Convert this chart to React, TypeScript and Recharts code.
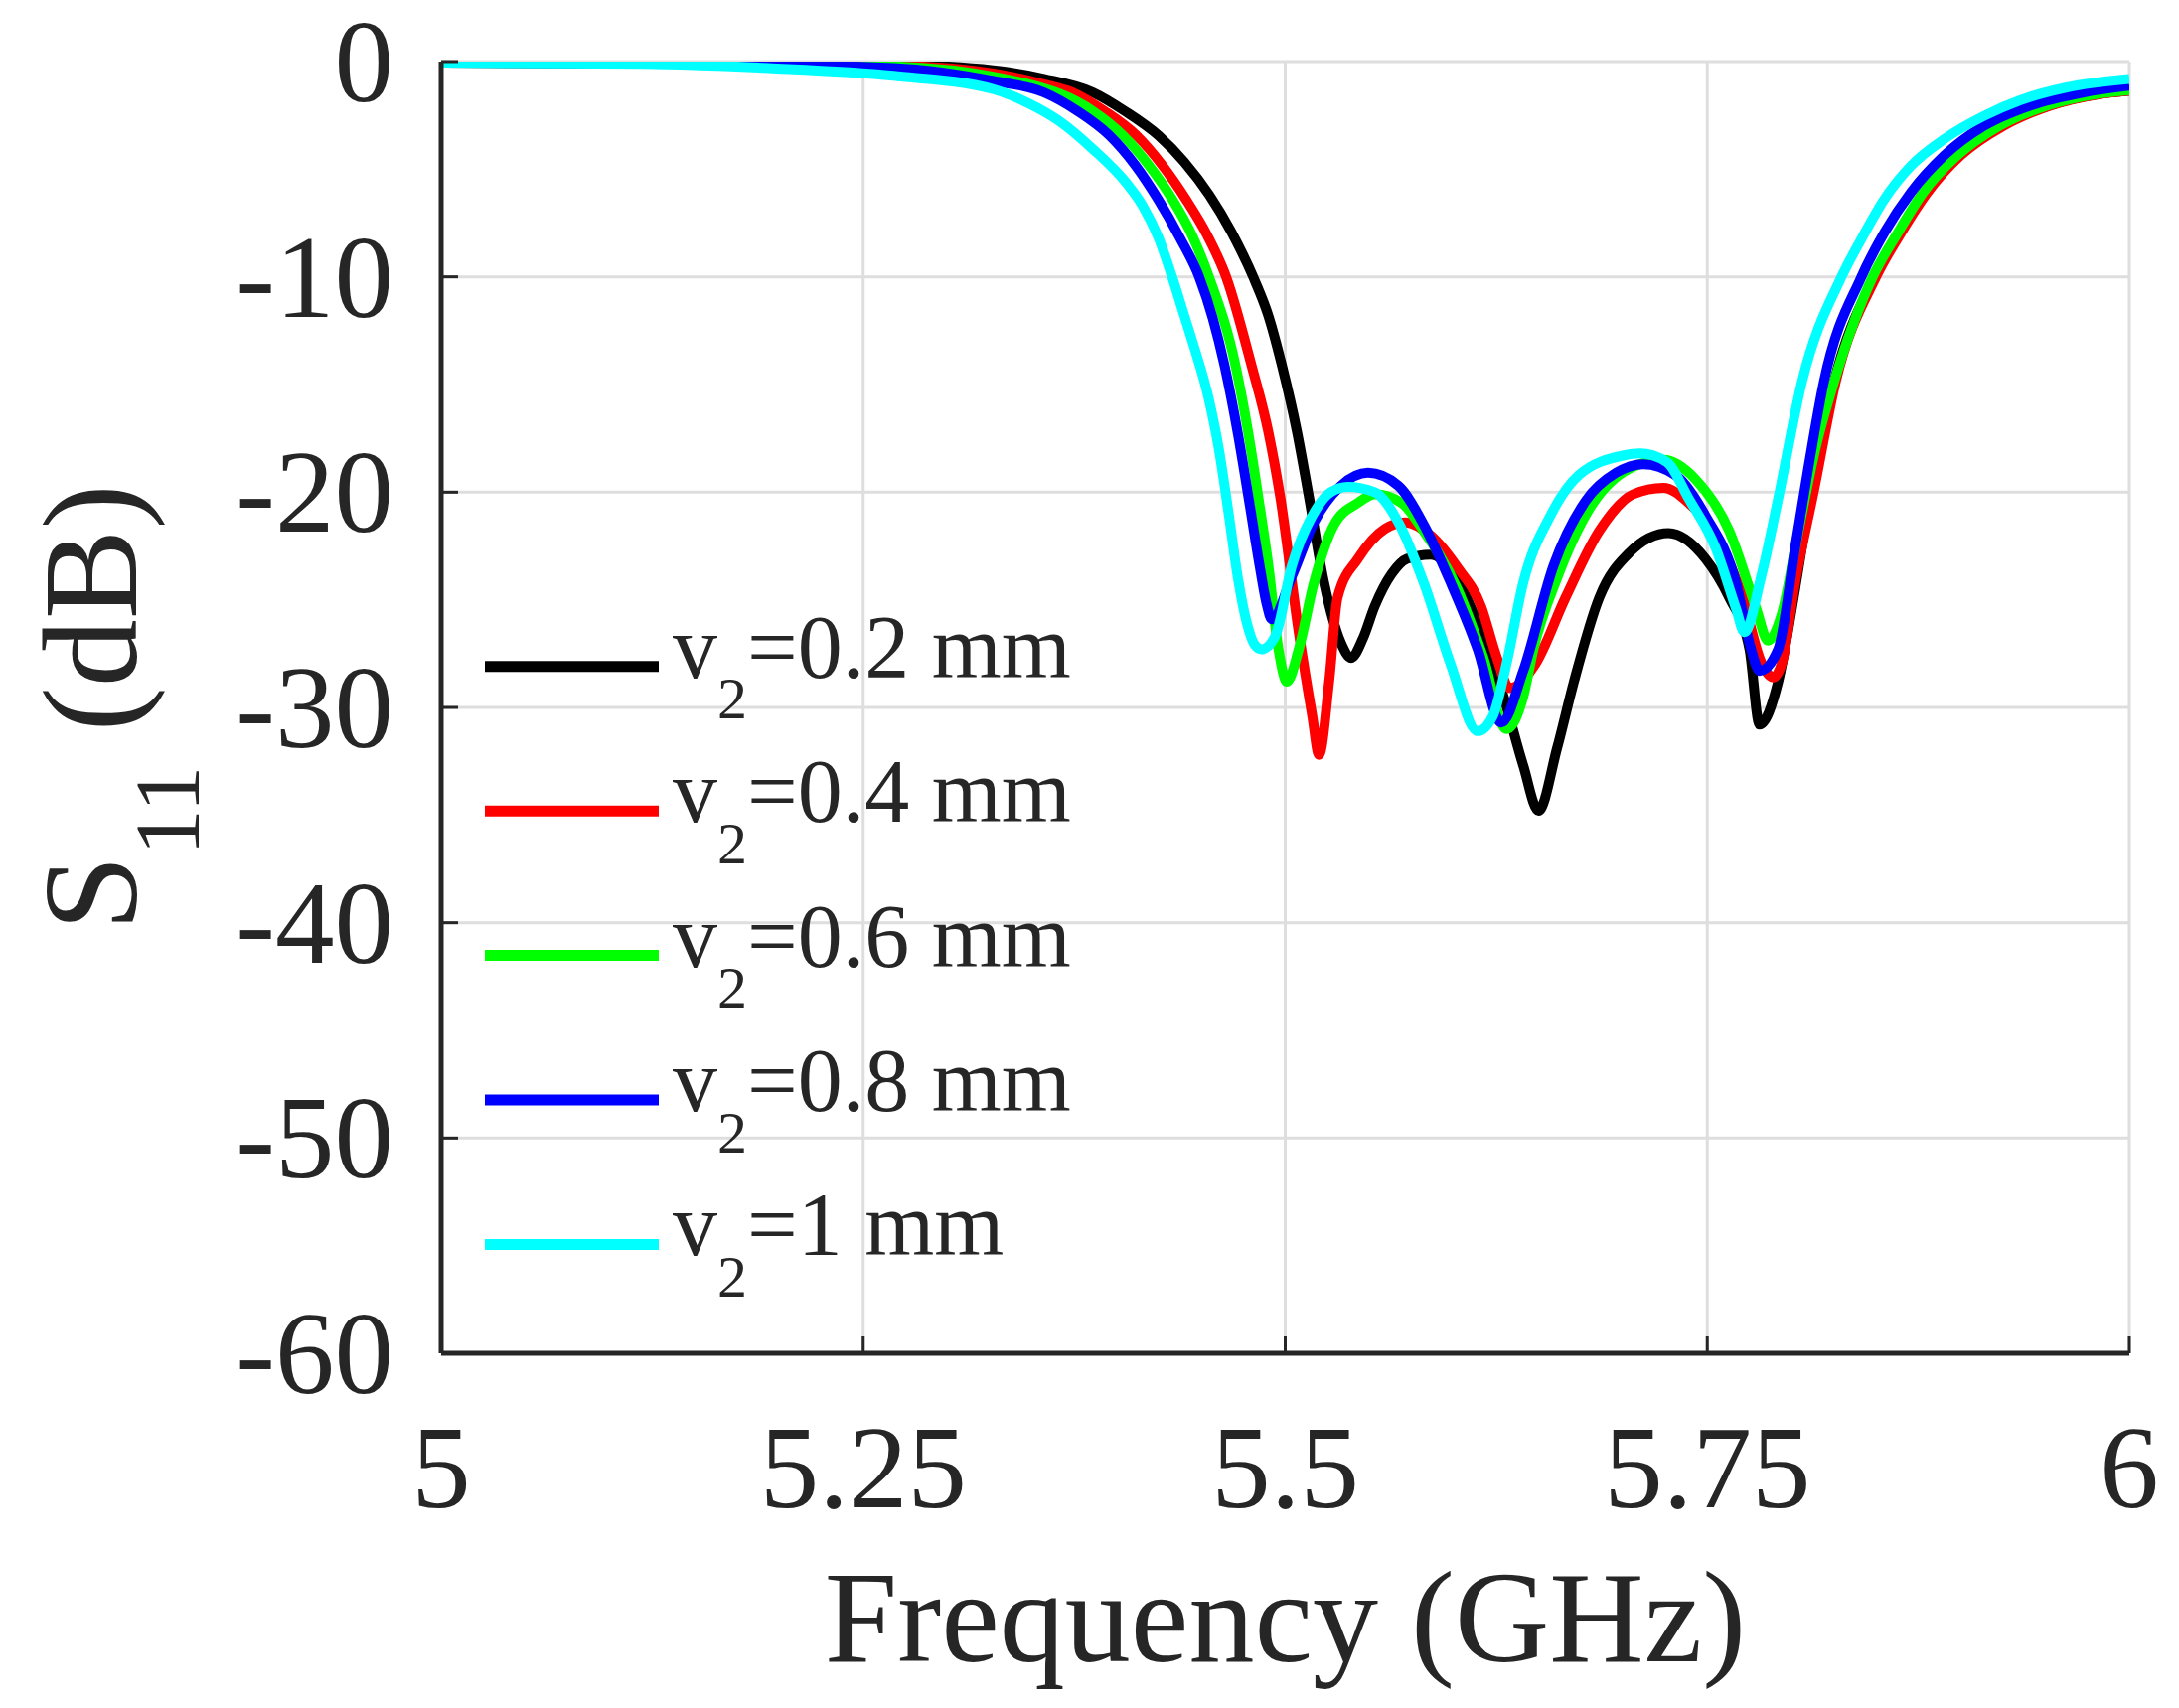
import React from "react";
import {
  LineChart,
  Line,
  XAxis,
  YAxis,
  CartesianGrid,
  Legend,
} from "recharts";

const FONT = '"Liberation Serif", "Times New Roman", serif';
const INK = "#262626";
const GRID = "#dedede";

// page & plot box (px)
const W = 2193;
const H = 1719;
const PLOT_L = 444;
const PLOT_R = 2143;
const PLOT_T = 62;
const PLOT_B = 1362;
const TICK = 17;

// axes
const X_TICKS = [5, 5.25, 5.5, 5.75, 6];
const Y_TICKS = [-60, -50, -40, -30, -20, -10, 0];

// v2 = 0.2 mm
const F_02 = [5.0, 5.15, 5.268, 5.327, 5.357, 5.386, 5.405, 5.425, 5.44, 5.455, 5.468, 5.481, 5.49, 5.498, 5.507, 5.514, 5.523, 5.533, 5.539, 5.546, 5.553, 5.563, 5.572, 5.586, 5.6, 5.615, 5.629, 5.641, 5.65, 5.661, 5.671, 5.686, 5.704, 5.727, 5.749, 5.763, 5.775, 5.781, 5.792, 5.802, 5.811, 5.825, 5.849, 5.864, 5.8795, 5.899, 5.9245, 5.952, 5.9815, 6.0];
const S_02 = [-0.05, -0.06, -0.14, -0.4, -0.8, -1.43, -2.3, -3.44, -4.65, -6.2, -7.9, -10.0, -11.8, -14.1, -17.2, -20.2, -24.2, -27.0, -27.7, -26.8, -25.3, -23.8, -23.1, -22.9, -23.8, -26.3, -29.4, -32.7, -34.8, -31.9, -28.8, -24.9, -22.8, -21.9, -23.1, -24.9, -27.3, -30.8, -28.8, -24.5, -20.2, -14.9, -10.0, -7.93, -6.07, -4.37, -2.98, -2.05, -1.51, -1.35];

// v2 = 0.4 mm
const F_04 = [5.0, 5.15, 5.268, 5.327, 5.357, 5.374, 5.393, 5.412, 5.427, 5.441, 5.454, 5.465, 5.48, 5.49, 5.497, 5.508, 5.516, 5.52, 5.526, 5.531, 5.543, 5.559, 5.571, 5.586, 5.602, 5.616, 5.625, 5.633, 5.648, 5.666, 5.686, 5.706, 5.724, 5.739, 5.755, 5.771, 5.782, 5.789, 5.794, 5.802, 5.813, 5.826, 5.85, 5.865, 5.8805, 5.9, 5.9255, 5.953, 5.9825, 6.0];
const S_04 = [-0.05, -0.07, -0.18, -0.55, -1.05, -1.43, -2.3, -3.44, -4.8, -6.38, -8.1, -10.0, -14.1, -17.2, -20.2, -26.5, -30.4, -32.2, -28.8, -24.9, -23.1, -21.7, -21.4, -22.0, -23.5, -25.3, -27.6, -29.1, -28.0, -24.9, -21.8, -20.1, -19.8, -20.5, -22.0, -24.9, -27.9, -28.6, -28.0, -24.2, -20.0, -14.9, -10.0, -7.93, -6.07, -4.37, -2.98, -2.05, -1.51, -1.35];

// v2 = 0.6 mm
const F_06 = [5.0, 5.15, 5.268, 5.327, 5.357, 5.3665, 5.386, 5.404, 5.419, 5.433, 5.445, 5.4548, 5.4705, 5.478, 5.484, 5.49, 5.496, 5.501, 5.508, 5.517, 5.529, 5.543, 5.553, 5.569, 5.582, 5.602, 5.617, 5.631, 5.641, 5.647, 5.661, 5.68, 5.704, 5.724, 5.743, 5.763, 5.779, 5.786, 5.794, 5.804, 5.814, 5.825, 5.848, 5.863, 5.878, 5.898, 5.923, 5.951, 5.98, 6.0];
const S_06 = [-0.05, -0.08, -0.22, -0.7, -1.25, -1.5, -2.3, -3.44, -4.8, -6.38, -8.1, -10.0, -14.1, -17.2, -20.2, -23.4, -27.3, -28.8, -27.3, -24.2, -21.5, -20.5, -20.1, -20.5, -21.8, -24.5, -27.6, -31.0, -29.5, -27.3, -24.0, -20.8, -18.9, -18.5, -19.4, -21.8, -25.4, -26.9, -25.7, -21.8, -18.0, -14.9, -10.0, -7.93, -6.07, -4.37, -2.98, -2.05, -1.51, -1.33];

// v2 = 0.8 mm
const F_08 = [5.0, 5.15, 5.268, 5.327, 5.357, 5.377, 5.396, 5.411, 5.4245, 5.437, 5.449, 5.457, 5.464, 5.472, 5.479, 5.485, 5.489, 5.492, 5.504, 5.517, 5.533, 5.549, 5.567, 5.582, 5.598, 5.614, 5.628, 5.641, 5.659, 5.678, 5.696, 5.712, 5.731, 5.749, 5.767, 5.776, 5.781, 5.792, 5.802, 5.81, 5.819, 5.8413, 5.855, 5.8707, 5.8903, 5.914, 5.941, 5.973, 6.0];
const S_08 = [-0.05, -0.09, -0.3, -0.9, -1.43, -2.3, -3.44, -4.8, -6.38, -8.1, -10.0, -11.9, -14.1, -17.3, -20.6, -23.5, -25.2, -25.9, -23.9, -21.4, -19.7, -19.1, -19.7, -21.5, -24.2, -27.3, -30.7, -28.3, -23.4, -20.4, -19.1, -18.7, -19.2, -21.1, -24.2, -27.3, -28.3, -27.3, -22.6, -18.8, -14.9, -10.0, -7.93, -6.07, -4.37, -2.98, -2.05, -1.43, -1.12];

// v2 = 1 mm
const F_10 = [5.0, 5.12, 5.194, 5.268, 5.327, 5.347, 5.366, 5.386, 5.406, 5.4155, 5.425, 5.433, 5.439, 5.445, 5.4548, 5.4607, 5.4665, 5.472, 5.477, 5.482, 5.486, 5.494, 5.504, 5.516, 5.527, 5.537, 5.553, 5.567, 5.582, 5.598, 5.614, 5.623, 5.631, 5.641, 5.657, 5.674, 5.7, 5.71, 5.726, 5.739, 5.755, 5.767, 5.772, 5.782, 5.792, 5.806, 5.8295, 5.8413, 5.855, 5.8707, 5.8903, 5.914, 5.9374, 5.963, 6.0];
const S_10 = [-0.05, -0.1, -0.3, -0.66, -1.28, -1.9, -2.75, -4.06, -5.65, -6.69, -8.2, -10.0, -11.5, -13.0, -15.7, -18.0, -21.0, -24.0, -26.0, -27.1, -27.3, -26.7, -23.4, -21.1, -20.0, -19.75, -20.0, -21.4, -24.2, -28.0, -31.1, -30.4, -28.0, -24.2, -21.1, -19.2, -18.3, -18.2, -18.6, -20.3, -22.6, -25.4, -26.5, -23.9, -20.3, -14.9, -10.0, -8.24, -6.38, -4.84, -3.6, -2.52, -1.74, -1.2, -0.81];

const toPoints = (f: number[], s: number[]) => f.map((x, i) => ({ f: x, s: s[i] }));

const SERIES = [
  { name: "0.2", color: "#000000", data: toPoints(F_02, S_02) },
  { name: "0.4", color: "#ff0000", data: toPoints(F_04, S_04) },
  { name: "0.6", color: "#00ff00", data: toPoints(F_06, S_06) },
  { name: "0.8", color: "#0000ff", data: toPoints(F_08, S_08) },
  { name: "1", color: "#00ffff", data: toPoints(F_10, S_10) },
];

function BottomTick(props: any) {
  const { x, y, payload } = props;
  return (
    <g>
      <line x1={x} x2={x} y1={y} y2={y - TICK} stroke={INK} strokeWidth={3} />
      <text x={x} y={y + 155} textAnchor="middle" fontFamily={FONT} fontSize={119} fill={INK}>
        {String(payload.value)}
      </text>
    </g>
  );
}

function LeftTick(props: any) {
  const { x, y, payload } = props;
  return (
    <g>
      <line x1={x} x2={x + TICK} y1={y} y2={y} stroke={INK} strokeWidth={3} />
      <text x={x - 48} y={y + 40} textAnchor="end" fontFamily={FONT} fontSize={119} fill={INK}>
        {String(payload.value)}
      </text>
    </g>
  );
}

function TopTick(props: any) {
  const { x, y } = props;
  return <line x1={x} x2={x} y1={y} y2={y + TICK} stroke={INK} strokeWidth={3} />;
}

function RightTick(props: any) {
  const { x, y } = props;
  return <line x1={x} x2={x - TICK} y1={y} y2={y} stroke={INK} strokeWidth={3} />;
}

function XTitle() {
  return (
    <text x={(PLOT_L + PLOT_R) / 2} y={1672} textAnchor="middle" fontFamily={FONT} fontSize={132} fill={INK}>
      Frequency (GHz)
    </text>
  );
}

function YTitle() {
  const cx = 137;
  const cy = (PLOT_T + PLOT_B) / 2;
  return (
    <text
      x={cx}
      y={cy}
      transform={`rotate(-90, ${cx}, ${cy})`}
      textAnchor="middle"
      fontFamily={FONT}
      fontSize={136}
      fill={INK}
    >
      <tspan>S</tspan>
      <tspan dy={63} fontSize={94}>11</tspan>
      <tspan dy={-63}> (dB)</tspan>
    </text>
  );
}

function LegendBox(props: any) {
  const items = props.payload || [];
  return (
    <svg width={720} height={720} style={{ display: "block" }}>
      {items.map((it: any, i: number) => {
        const y = 70.8 + i * 145.4;
        return (
          <g key={i}>
            <line x1={8} x2={183} y1={y} y2={y} stroke={it.color} strokeWidth={11} />
            <text x={197} y={y + 11} fontFamily={FONT} fontSize={90} fill={INK}>
              <tspan>v</tspan>
              <tspan dy={41.6} fontSize={60}>2</tspan>
              <tspan dy={-41.6}>{`=${it.value} mm`}</tspan>
            </text>
          </g>
        );
      })}
    </svg>
  );
}

export default function App() {
  return (
    <div style={{ position: "absolute", left: 0, top: 0, width: W, height: H, background: "#fff" }}>
      <LineChart
        width={W}
        height={H}
        margin={{ top: PLOT_T, right: W - PLOT_R, bottom: 0, left: 0 }}
      >
        <CartesianGrid stroke={GRID} strokeWidth={3} />
        <XAxis
          dataKey="f"
          type="number"
          domain={[5, 6]}
          ticks={X_TICKS}
          allowDataOverflow
          height={H - PLOT_B}
          tickSize={0}
          tickMargin={0}
          tickLine={false}
          axisLine={{ stroke: INK, strokeWidth: 5 }}
          tick={(p: any) => <BottomTick {...p} />}
          interval={0}
          label={<XTitle />}
        />
        <XAxis
          xAxisId="top"
          orientation="top"
          type="number"
          domain={[5, 6]}
          ticks={X_TICKS}
          height={0}
          tickSize={0}
          tickMargin={0}
          tickLine={false}
          axisLine={{ stroke: INK, strokeWidth: 5 }}
          tick={(p: any) => <TopTick {...p} />}
          interval={0}
        />
        <YAxis
          type="number"
          domain={[-60, 0]}
          ticks={Y_TICKS}
          allowDataOverflow
          width={PLOT_L}
          tickSize={0}
          tickMargin={0}
          tickLine={false}
          axisLine={{ stroke: INK, strokeWidth: 5 }}
          tick={(p: any) => <LeftTick {...p} />}
          interval={0}
          label={<YTitle />}
        />
        <YAxis
          yAxisId="right"
          orientation="right"
          type="number"
          domain={[-60, 0]}
          ticks={Y_TICKS}
          width={0}
          tickSize={0}
          tickMargin={0}
          tickLine={false}
          axisLine={{ stroke: INK, strokeWidth: 5 }}
          tick={(p: any) => <RightTick {...p} />}
          interval={0}
        />
        <Legend
          layout="vertical"
          align="center"
          verticalAlign="middle"
          content={(p: any) => <LegendBox {...p} />}
          wrapperStyle={{ position: "absolute", left: 480, top: 600, width: 720, height: 720 }}
        />
        {SERIES.map((s) => (
          <Line
            key={s.name}
            data={s.data}
            dataKey="s"
            name={s.name}
            type="monotone"
            stroke={s.color}
            strokeWidth={10}
            dot={false}
            activeDot={false}
            isAnimationActive={false}
          />
        ))}
      </LineChart>
    </div>
  );
}
